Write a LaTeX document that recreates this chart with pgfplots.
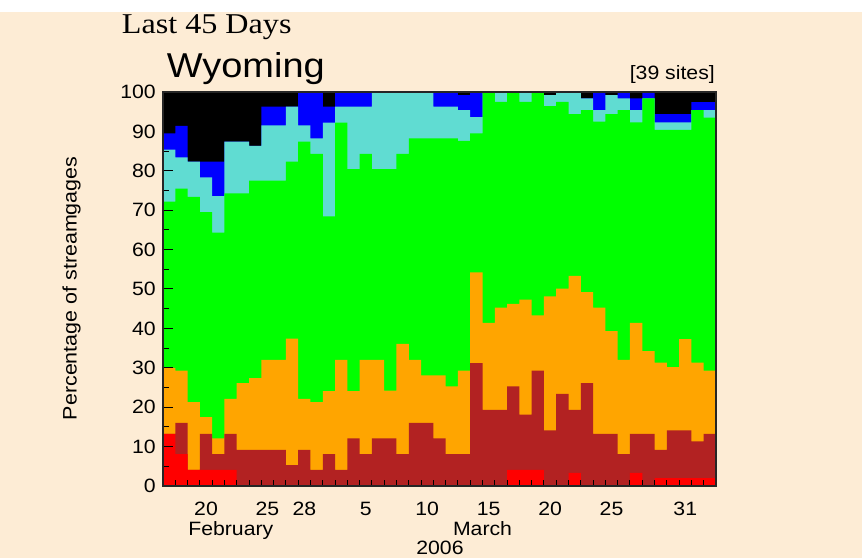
\documentclass[border=0pt]{standalone}
\usepackage{pgfplots}
\usepackage{pgfplotstable}
\pgfplotsset{compat=1.18}
\usepackage{fontspec}
\setmainfont{Liberation Sans}
\newfontfamily\hv[FakeStretch=1.1]{Liberation Sans}
\newfontfamily\tms[FakeStretch=1.12]{Liberation Serif}
\definecolor{bgc}{RGB}{253,236,213}
\definecolor{cred}{RGB}{255,0,0}
\definecolor{cbrown}{RGB}{178,34,34}
\definecolor{corange}{RGB}{255,165,0}
\definecolor{cgreen}{RGB}{0,255,0}
\definecolor{ccyan}{RGB}{96,220,210}
\definecolor{cblue}{RGB}{0,0,255}
\pgfplotstableread{
x  r    b    o    g     c     u     k
0  13.2 13.2 30.0 72.2  85.4  89.5  100
1  8.1  16.0 29.3 75.5  83.4  91.4  100
2  4.1  4.1  21.3 73.4  82.3  82.3  100
3  4.1  13.2 17.5 69.5  78.3  82.3  100
4  4.1  8.1  12.1 64.3  73.6  82.3  100
5  4.1  13.2 22.1 74.3  87.4  87.4  100
6  0    9.2  26.1 74.3  87.4  87.4  100
7  0    9.2  27.4 77.5  86.3  86.3  100
8  0    9.2  32.0 77.5  91.5  96.3  100
9  0    9.2  32.0 77.5  91.5  96.3  100
10 0    5.3  37.4 82.3  96.3  96.3  100
11 0    9.2  22.1 87.4  91.5  100   100
12 0    4.1  21.3 84.3  88.2  100   100
13 0    8.1  24.1 68.4  92.2  96.3  100
14 0    4.1  32.0 92.2  96.3  100   100
15 0    12.1 24.1 80.4  96.3  100   100
16 0    8.1  32.0 84.3  96.3  100   100
17 0    12.1 32.0 80.4  100   100   100
18 0    12.1 24.2 80.4  100   100   100
19 0    8.1  36.1 84.3  100   100   100
20 0    16.0 32.0 88.2  100   100   100
21 0    16.0 28.1 88.2  100   100   100
22 0    12.1 28.1 88.2  96.3  100   100
23 0    8.1  25.3 88.2  96.3  100   100
24 0    8.1  29.3 87.6  95.4  99.2  100
25 0    31.2 54.2 89.5  93.6  100   100
26 0    19.3 41.4 100   100   100   100
27 0    19.3 45.3 97.5  100   100   100
28 4.1  25.3 46.2 100   100   100   100
29 4.1  18.1 47.3 97.5  100   100   100
30 4.1  29.3 43.3 100   100   100   100
31 0    14.1 48.1 96.4  99.2  99.2  100
32 0    23.4 50.1 97.5  100   100   100
33 3.3  19.3 53.3 94.4  100   100   100
34 0    26.1 49.2 95.4  98.4  98.4  100
35 0    13.2 45.3 92.5  95.4  100   100
36 0    13.2 39.3 94.4  99.2  99.2  100
37 0    8.1  32.0 95.4  98.4  100   100
38 3.3  13.2 41.4 92.3  95.4  98.4  100
39 0    13.2 34.2 98.4  98.4  100   100
40 2.0  9.2  31.3 90.4  92.3  94.4  100
41 2.0  14.1 30.2 90.4  92.3  94.4  100
42 2.0  14.1 37.3 90.4  92.3  94.4  100
43 2.0  11.3 31.3 95.4  95.4  97.4  100
44 2.0  13.2 29.3 93.5  95.4  97.4  100
45 2.0  13.2 29.3 93.5  95.4  97.4  100
}\data
\begin{document}
\begin{tikzpicture}
\fill[bgc] (0,0) rectangle (862bp,558bp);
\fill[white] (0,546.3bp) rectangle (862bp,558bp);
\begin{axis}[
  at={(163bp,72bp)}, anchor=south west,
  scale only axis, width=553bp, height=394bp,
  xmin=0, xmax=45, ymin=0, ymax=100,
  axis on top,
  axis line style={line width=1.4bp, black!85},
  tick pos=left, tick align=inside,
  tick style={line width=1bp, black},
  major tick length=10bp, minor tick length=5.5bp,
  xtick={3.5,8.5,11.5,16.5,21.5,26.5,31.5,36.5,42.5},
  xticklabels={20,25,28,5,10,15,20,25,31},
  major x tick style={draw=none},
  minor xtick={1,2,...,44},
  ytick={0,10,...,100},
  minor ytick={5,15,...,95},
  /pgf/number format/assume math mode=true,
  xticklabel style={font=\hv\fontsize{19.3bp}{23bp}\selectfont, anchor=north, inner sep=0pt, yshift=-15.7bp},
  yticklabel style={font=\hv\fontsize{19.3bp}{23bp}\selectfont, anchor=east, inner sep=0pt, xshift=-7bp},
]
\addplot[const plot, fill=black, draw=none] table[x=x,y=k] {\data} \closedcycle;
\addplot[const plot, fill=cblue, draw=none] table[x=x,y=u] {\data} \closedcycle;
\addplot[const plot, fill=ccyan, draw=none] table[x=x,y=c] {\data} \closedcycle;
\addplot[const plot, fill=cgreen, draw=none] table[x=x,y=g] {\data} \closedcycle;
\addplot[const plot, fill=corange, draw=none] table[x=x,y=o] {\data} \closedcycle;
\addplot[const plot, fill=cbrown, draw=none] table[x=x,y=b] {\data} \closedcycle;
\addplot[const plot, fill=cred, draw=none] table[x=x,y=r] {\data} \closedcycle;
\end{axis}
\node[anchor=base west, inner sep=0pt, font=\tms\fontsize{28.7bp}{32bp}\selectfont] at (121.7bp,524bp) {Last 45 Days};
\node[anchor=base west, inner sep=0pt, font=\hv\fontsize{34.5bp}{40bp}\selectfont] at (166.7bp,480.7bp) {Wyoming};
\node[anchor=base east, inner sep=0pt, font=\hv\fontsize{19.3bp}{23bp}\selectfont] at (715bp,478.7bp) {[39 sites]};
\node[anchor=base, rotate=90, inner sep=0pt, font=\hv\fontsize{19.5bp}{23bp}\selectfont] at (76.7bp,269.7bp) {Percentage of streamgages};
\node[anchor=base, inner sep=0pt, font=\hv\fontsize{19.3bp}{23bp}\selectfont] at (230.8bp,22.5bp) {February};
\node[anchor=base, inner sep=0pt, font=\hv\fontsize{19.3bp}{23bp}\selectfont] at (482.5bp,22.5bp) {March};
\node[anchor=base, inner sep=0pt, font=\hv\fontsize{19.3bp}{23bp}\selectfont] at (440bp,3.5bp) {2006};
\end{tikzpicture}
\end{document}
